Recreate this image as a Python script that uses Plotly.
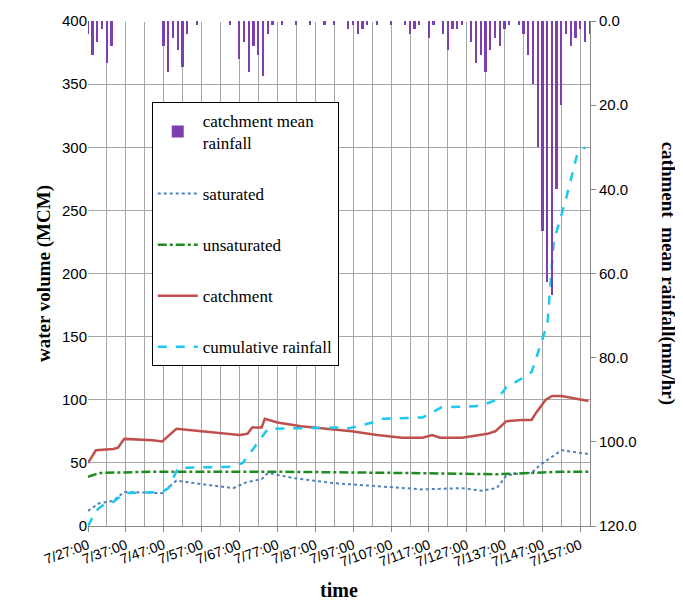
import plotly.graph_objects as go

# hours since 7/2 7:00
tick_hours = [24 * i for i in range(14)]
tick_text = [f"7/{d}7:00" for d in range(2, 16)]

rain_hours = [3 * i for i in range(107)]
rain = [3, 8, 5, 2, 10, 6, 0, 0, 0, 0, 0, 0, 0, 0, 0, 0,
        6, 12, 4, 7, 11, 3, 0, 1, 0, 0, 0, 0, 0, 0, 1, 0,
        9, 5, 12, 6, 8, 13, 3, 1, 0, 1, 0, 0, 1, 0, 0, 1,
        0, 0, 1, 0, 1, 0, 0, 2, 1, 3, 2, 1, 0, 1, 0, 0,
        1, 0, 0, 1, 3, 2, 1, 0, 4, 1, 0, 3, 7, 2, 2, 1,
        0, 5, 10, 8, 12, 7, 4, 6, 2, 1, 0, 1, 3, 8, 15, 30,
        50, 62, 65, 40, 20, 3, 6, 4, 2, 5, 3]

catch_h = [0, 5, 16, 19, 23, 41, 47, 56, 96, 101, 104, 110, 112, 120, 135, 167, 183, 199, 212, 218, 223, 237, 253, 258, 265, 275, 281, 284, 290, 294, 300, 308, 317]
catch_v = [50, 60, 61, 62, 69, 68, 67, 77, 72, 73, 78, 78, 85, 82, 79, 75, 72, 70, 70, 72, 70, 70, 73, 75, 83, 84, 84, 90, 100, 103, 103, 101, 99]

sat_h = [0, 7, 16, 23, 47, 56, 73, 92, 101, 110, 114, 130, 155, 187, 212, 237, 249, 259, 265, 275, 281, 286, 300, 317]
sat_v = [12, 18, 20, 27, 26, 36, 33, 30, 35, 37, 42, 38, 34, 31, 29, 30, 28, 30, 40, 42, 42, 48, 60, 57]

unsat_h = [0, 7, 40, 120, 200, 260, 300, 317]
unsat_v = [39, 42, 43, 43, 42, 41, 43, 43]

cum_h = [0, 5, 10, 16, 23, 47, 51, 57, 92, 98, 104, 114, 162, 164, 174, 180, 187, 212, 218, 224, 248, 259, 265, 275, 281, 291, 295, 303, 310, 315]
cum_v = [0, 12, 17, 19, 26, 27, 30, 46, 47, 50, 60, 77, 78, 77, 80, 82, 85, 86, 90, 94, 95, 100, 110, 117, 122, 160, 225, 260, 295, 300]

times = "Times New Roman, Liberation Serif, serif"
sans = "Liberation Sans, Arial, sans-serif"

fig = go.Figure()
fig.add_trace(go.Bar(x=rain_hours, y=rain, yaxis="y2", name="catchment mean<br>rainfall",
                     marker=dict(color="#7B3FB0", line=dict(width=0)), width=1.1,
                     legendgroup="a"))
fig.add_trace(go.Scatter(x=sat_h, y=sat_v, mode="lines", name="saturated",
                         line=dict(color="#4F81BD", dash="dot", width=2), legendgroup="b"))
fig.add_trace(go.Scatter(x=unsat_h, y=unsat_v, mode="lines", name="unsaturated",
                         line=dict(color="#1E8C1E", dash="dashdot", width=2.5), legendgroup="c"))
fig.add_trace(go.Scatter(x=catch_h, y=catch_v, mode="lines", name="catchment",
                         line=dict(color="#C0504D", width=2.5), legendgroup="d"))
fig.add_trace(go.Scatter(x=cum_h, y=cum_v, mode="lines", name="cumulative rainfall",
                         line=dict(color="#1CC8F0", dash="dash", width=2.5), legendgroup="e"))

fig.update_layout(
    width=683, height=613,
    margin=dict(l=80, r=101, t=13, b=95),
    plot_bgcolor="white", paper_bgcolor="white",
    showlegend=True,
    legend=dict(x=0.127, y=0.84, xanchor="left", yanchor="top",
                bgcolor="white", bordercolor="black", borderwidth=1,
                font=dict(family=times, size=17, color="black"),
                tracegroupgap=26, itemwidth=40),
    xaxis=dict(range=[0, 318], tickvals=tick_hours, ticktext=tick_text, tickangle=-20, automargin=False,
               showgrid=False, showline=True, linecolor="#888", ticks="outside", ticklen=5, tickcolor="#888",
               minor=dict(dtick=12, tick0=0, showgrid=True, gridcolor="#A6A6A6"),
               tickfont=dict(family=sans, size=14, color="black"), ticklabeloverflow="allow",
               title=dict(text="<b>time</b>", font=dict(family=times, size=20, color="black"), standoff=14)),
    yaxis=dict(range=[0, 400], dtick=50, showgrid=True, gridcolor="#A6A6A6", zeroline=False, automargin=False,
               tickfont=dict(family=sans, size=15, color="black"), ticklabeloverflow="allow",
               title=dict(text="<b>water volume (MCM)</b>", font=dict(family=times, size=19, color="black"), standoff=6)),
    yaxis2=dict(range=[120, 0], dtick=20, tickformat=".1f", overlaying="y", side="right", automargin=False,
                showgrid=False, showline=True, linecolor="#888", ticks="outside", tickcolor="#888",
                tickfont=dict(family=sans, size=15, color="black"), ticklabeloverflow="allow"),
    annotations=[dict(text="<b>cathment  mean rainfall(mm/hr)</b>", textangle=90,
                      xref="paper", yref="paper", x=1.157, y=0.5, xanchor="center", showarrow=False,
                      font=dict(family=times, size=19, color="black"))],
    bargap=0,
)

fig.write_html("out.html")
